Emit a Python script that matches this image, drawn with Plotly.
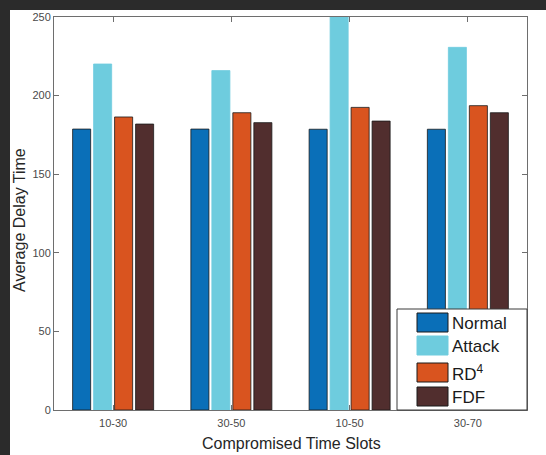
import plotly.graph_objects as go

# Data: average delay per compromised time-slot window
slots = ["10-30", "30-50", "10-50", "30-70"]
normal = [178.7, 178.7, 178.6, 178.6]
attack = [220.1, 215.9, 265.0, 230.7]
rd4 = [186.4, 189.1, 192.5, 193.6]
fdf = [181.9, 182.8, 183.8, 189.1]

series_names = ["Normal", "Attack", "RD<sup>4</sup>", "FDF"]
series_values = [normal, attack, rd4, fdf]
series_colors = ["#0A6FB8", "#6ECCDE", "#D9541F", "#512E2E"]
edge_colors = ["#1a1a1a", "#6ECCDE", "#1a1a1a", "#1a1a1a"]

W, H = 546, 455
ML, MR, MT, MB = 54, 19, 17, 45
PW, PH = W - ML - MR, H - MT - MB


def px(x):
    return (x - ML) / PW


def py(y):
    return (H - MB - y) / PH


fig = go.Figure()
for name, vals, col, ec in zip(series_names, series_values, series_colors, edge_colors):
    fig.add_trace(go.Bar(
        x=slots, y=vals, name=name, showlegend=False,
        marker=dict(color=col, line=dict(color=ec, width=0.8)),
    ))

axis_common = dict(
    showline=True, linecolor="#6e6e6e", linewidth=1, mirror="ticks",
    ticks="inside", ticklen=5, tickcolor="#6e6e6e",
    showgrid=False, zeroline=False,
    tickfont=dict(family="Liberation Sans", size=11, color="#4a4a4a"),
)

fig.update_layout(
    width=W, height=H,
    margin=dict(l=ML, r=MR, t=MT, b=MB),
    paper_bgcolor="white", plot_bgcolor="white",
    barmode="group", bargap=0.29, bargroupgap=0.14,
    xaxis=dict(**axis_common, ticklabelstandoff=3),
    yaxis=dict(**axis_common, range=[0, 250], tickvals=[0, 50, 100, 150, 200, 250]),
    font=dict(family="Liberation Sans", color="#262626"),
)

shapes = [
    # dark surround along the top and left edges
    dict(type="rect", xref="paper", yref="paper", x0=px(0), x1=px(W), y0=py(0), y1=py(10),
         fillcolor="#2b2b2b", line=dict(width=0), layer="above"),
    dict(type="rect", xref="paper", yref="paper", x0=px(0), x1=px(10), y0=py(0), y1=py(H),
         fillcolor="#2b2b2b", line=dict(width=0), layer="above"),
    # legend box
    dict(type="rect", xref="paper", yref="paper", x0=px(397), x1=px(527), y0=py(309), y1=py(410),
         fillcolor="white", line=dict(color="#3a3a3a", width=1), layer="above"),
]

annotations = [
    dict(text="Average Delay Time", xref="paper", yref="paper", x=px(19), y=py(220),
         xanchor="center", yanchor="middle", textangle=-90, showarrow=False,
         font=dict(family="Liberation Sans", size=16, color="#262626")),
    dict(text="Compromised Time Slots", xref="paper", yref="paper", x=px(291), y=py(443),
         xanchor="center", yanchor="middle", showarrow=False,
         font=dict(family="Liberation Sans", size=16, color="#262626")),
]

row_tops = [313, 336, 363, 387]
for name, col, ec, top in zip(series_names, series_colors, edge_colors, row_tops):
    shapes.append(dict(type="rect", xref="paper", yref="paper",
                       x0=px(417), x1=px(448), y0=py(top), y1=py(top + 19),
                       fillcolor=col, line=dict(color=ec, width=1), layer="above"))
    annotations.append(dict(text=name, xref="paper", yref="paper",
                            x=px(450), y=py(top + 10), xanchor="left", yanchor="middle",
                            showarrow=False,
                            font=dict(family="Liberation Sans", size=17, color="#1a1a1a")))

fig.update_layout(shapes=shapes, annotations=annotations)
fig.write_html("out.html")
